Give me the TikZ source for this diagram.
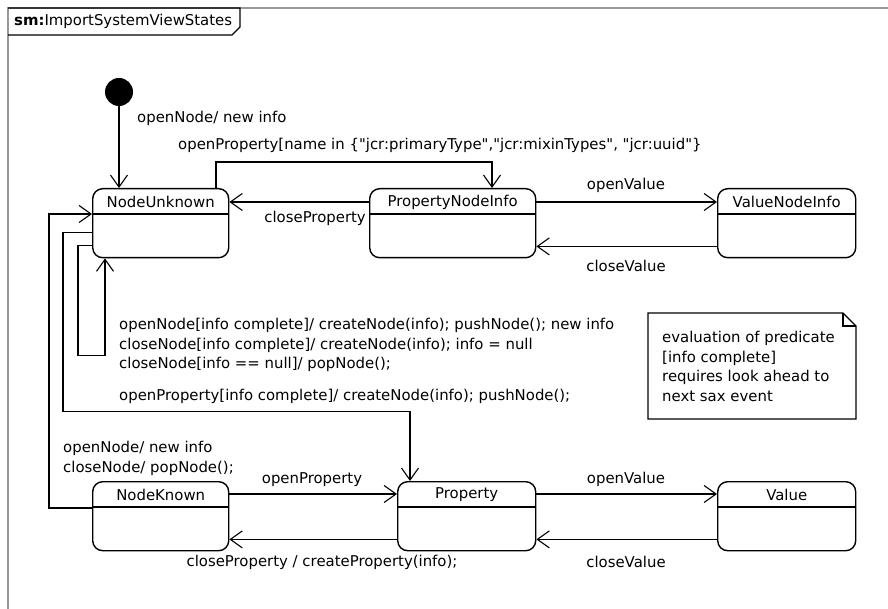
\documentclass[tikz,border=0pt]{standalone}
\usepackage{fontspec}
\setmainfont{DejaVu Sans}[Ligatures=TeXOff]
\usetikzlibrary{arrows.meta,calc}
\begin{document}
\begin{tikzpicture}[x=1pt,y=-1pt,
  every node/.style={font=\fontsize{14.9}{19.6}\selectfont, inner sep=0pt},
  statebox/.style={draw, line width=1.4pt, rounded corners=10pt, anchor=north west},
  arr/.style={line width=1.3pt, -{Straight Barb[length=12pt,width=17pt,line width=1.1pt]}},
  lbl/.style={anchor=west, align=left},
  frameline/.style={draw=black!40, line width=1.5pt}]
\useasboundingbox (0,0) rectangle (888,609);

% diagram frame and its name tab
\draw[frameline] (8,609) -- (8,8) -- (888,8);
\draw[line width=1.2pt] (8,8) -- (240,8) -- (240,27) -- (232,35) -- (8,35);
\node[anchor=west] (title) at (14,21) {\textbf{sm:}ImportSystemViewStates};

% initial pseudo state
\fill (119,92) circle (14pt);
\coordinate (init) at (119,106);

% states: outline, divider and name
\foreach \n/\x/\y/\w/\t in {nu/92/188/136/NodeUnknown, pni/369/188/166/PropertyNodeInfo,
    vni/717/188/138/ValueNodeInfo, nk/92/481/136/NodeKnown,
    prop/397/481/138/Property, val/717/481/138/Value}{
  \node[statebox, minimum width=\w pt, minimum height=69pt] (\n) at (\x,\y) {};
  \draw[line width=1.4pt] ([yshift=-26pt]\n.north west) -- ([yshift=-26pt]\n.north east);
  \node (\n-name) at ([yshift=-14pt]\n.north) {\t};
}

% transitions of the upper row
\draw[arr] (init) -- (init |- nu.north);
\node[lbl] (l-init) at (137,118) {openNode/ new info};

\draw[arr] ([xshift=124pt]nu.north west) -- ++(0,-26) -| ([xshift=123pt]pni.north west);
\node[lbl] (l-top) at (178,145) {openProperty[name in \{"jcr:primaryType","jcr:mixinTypes", "jcr:uuid"\}};

\draw[arr] ([yshift=-14pt]pni.north west) -- ([yshift=-14pt]nu.north east);
\node[anchor=east] (l-cp1) at (366,218) {closeProperty};

\draw[arr] ([yshift=-14pt]pni.north east) -- ([yshift=-14pt]vni.north west);
\node (l-ov1) at (626,185) {openValue};
\draw[arr] ([yshift=12pt]vni.south west) -- ([yshift=12pt]pni.south east);
\node (l-cv1) at (626,266) {closeValue};

% self transition on NodeUnknown
\draw[arr] ([yshift=13pt]nu.south west) -- ++(-14,0) -- ++(0,110) -| ([xshift=13pt]nu.south west);
\node[lbl, anchor=north west] (l-self) at (119,318) {openNode[info complete]/ createNode(info); pushNode(); new info\\
closeNode[info complete]/ createNode(info); info = null\\
closeNode[info == null]/ popNode();};

% NodeUnknown to Property
\draw[arr] ([yshift=26pt]nu.south west) -- ++(-29,0) -- ++(0,179) -| ([xshift=13pt]prop.north west);
\node[lbl] (l-np) at (119,396) {openProperty[info complete]/ createNode(info); pushNode();};

% NodeKnown back to NodeUnknown
\draw[arr] ([yshift=-27pt]nk.north west) -- ++(-43,0) |- ([yshift=-26pt]nu.north west);
\node[lbl, anchor=north west] (l-nk) at (63,441) {openNode/ new info\\closeNode/ popNode();};

% transitions of the lower row
\draw[arr] ([yshift=-13pt]nk.north east) -- ([yshift=-13pt]prop.north west);
\node (l-op) at (312,480) {openProperty};
\draw[arr] ([yshift=12pt]prop.south west) -- ([yshift=12pt]nk.south east);
\node (l-cp2) at (322,562) {closeProperty / createProperty(info);};

\draw[arr] ([yshift=-13pt]prop.north east) -- ([yshift=-13pt]val.north west);
\node (l-ov2) at (626,479) {openValue};
\draw[arr] ([yshift=12pt]val.south west) -- ([yshift=12pt]prop.south east);
\node (l-cv2) at (626,562) {closeValue};

% note
\draw[line width=1.2pt] (648,313) -- (843,313) -- (856,326) -- (856,419) -- (648,419) -- cycle;
\draw[line width=1.2pt] (843,313) -- (843,326) -- (856,326);
\node[lbl, anchor=north west] (note) at (662,331) {evaluation of predicate\\{}[info complete]\\requires look ahead to\\next sax event};
\end{tikzpicture}
\end{document}
